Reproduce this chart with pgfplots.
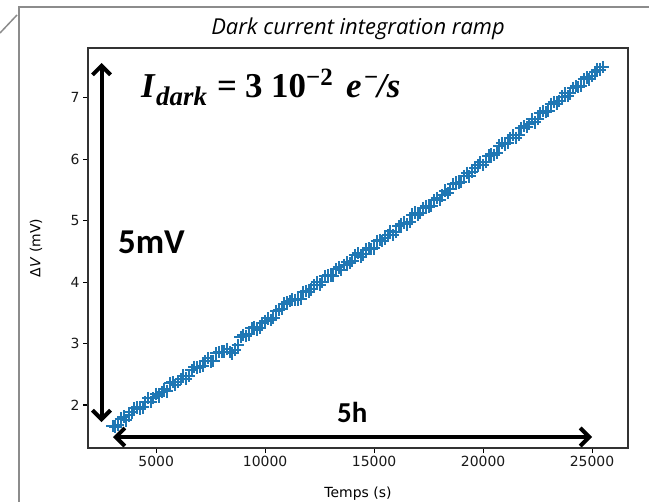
\documentclass[border=0pt]{standalone}
\usepackage{fontspec}
\setmainfont{DejaVu Sans}
\newfontfamily\carlito{Carlito}
\newfontfamily\opensans{Open Sans}
\newfontfamily\cambria{Liberation Serif}
\usepackage{pgfplots}
\pgfplotsset{compat=1.18}
\usetikzlibrary{arrows.meta}
\definecolor{mplblue}{HTML}{1F77B4}
\definecolor{framegray}{HTML}{8C8C8C}
\newcommand{\fbig}{\cambria\bfseries\fontsize{35}{40}\selectfont}
\newcommand{\fsub}{\cambria\bfseries\fontsize{27}{30}\selectfont}
\newcommand{\fsup}{\cambria\bfseries\fontsize{25}{28}\selectfont}
\begin{document}
\begin{tikzpicture}
\useasboundingbox (0,0) rectangle (649bp,-502bp);
% slide frame
\draw[framegray, line width=1.5bp] (0bp,-33bp) -- (17bp,-15bp);
\draw[framegray, line width=1.5bp] (19bp,-502bp) -- (19bp,-7bp) -- (649bp,-7bp);
\begin{axis}[
  at={(88bp,-448bp)}, anchor=south west,
  width=540bp, height=400bp, scale only axis,
  xmin=1870, xmax=26650, ymin=1.30, ymax=7.81,
  xtick={5000,10000,15000,20000,25000},
  ytick={2,3,4,5,6,7},
  scaled x ticks=false,
  xticklabel style={/pgf/number format/1000 sep={}},
  /pgf/number format/assume math mode=true,
  tick label style={font=\fontsize{14}{16}\selectfont, text=black!90},
  tick align=outside, major tick length=5bp,
  every tick/.style={black, line width=1.1bp},
  axis line style={black!80, line width=1.1bp},
  xtick pos=bottom, ytick pos=left,
  xlabel={Temps (s)},
  ylabel={Δ\textit{V} (mV)},
  label style={font=\fontsize{14}{16}\selectfont},
  xlabel style={at={(axis description cs:0.5,-0.115)}, anchor=center},
  ylabel style={at={(axis description cs:-0.0963,0.5)}, anchor=center},
]
\addplot[only marks, mark=+, mark size=6.2bp, color=mplblue, line width=2bp] table {
x y
3000 1.66
3250 1.68
3500 1.81
3750 1.83
4000 1.95
4250 1.93
4500 2.05
4750 2.05
5000 2.18
5250 2.21
5500 2.22
5750 2.37
6000 2.37
6250 2.48
6500 2.48
6750 2.62
7000 2.62
7250 2.71
7500 2.71
7750 2.84
8000 2.87
8250 2.91
8500 2.84
8750 2.97
9000 3.14
9250 3.15
9500 3.27
9750 3.26
10000 3.37
10250 3.38
10500 3.53
10750 3.56
11000 3.67
11250 3.72
11500 3.72
11750 3.84
12000 3.84
12250 3.95
12500 3.96
12750 4.10
13000 4.11
13250 4.21
13500 4.20
13750 4.32
14000 4.34
14250 4.47
14500 4.45
14750 4.55
15000 4.55
15250 4.69
15500 4.71
15750 4.83
16000 4.82
16250 4.94
16500 4.94
16750 5.10
17000 5.09
17250 5.21
17500 5.22
17750 5.33
18000 5.34
18250 5.49
18500 5.51
18750 5.62
19000 5.63
19250 5.78
19500 5.79
19750 5.90
20000 5.91
20250 6.06
20500 6.07
20750 6.22
21000 6.24
21250 6.34
21500 6.35
21750 6.50
22000 6.52
22250 6.65
22500 6.66
22750 6.78
23000 6.79
23250 6.93
23500 6.95
23750 7.07
24000 7.07
24250 7.19
24500 7.19
24750 7.33
25000 7.35
25250 7.46
25500 7.50
3125 1.65
3375 1.78
3625 1.75
3875 1.88
4125 1.96
4375 1.96
4625 2.11
4875 2.11
5125 2.14
5375 2.26
5625 2.36
5875 2.33
6125 2.42
6375 2.43
6625 2.57
6875 2.61
7125 2.64
7375 2.76
7625 2.72
7875 2.86
8125 2.87
8375 2.86
8625 2.90
8875 3.11
9125 3.12
9375 3.25
9625 3.22
9875 3.33
10125 3.41
10375 3.42
10625 3.55
10875 3.65
11125 3.69
11375 3.71
11625 3.73
11875 3.86
12125 3.88
12375 4.00
12625 4.00
12875 4.11
13125 4.10
13375 4.24
13625 4.28
13875 4.31
14125 4.44
14375 4.41
14625 4.53
14875 4.54
15125 4.67
15375 4.67
15625 4.77
15875 4.77
16125 4.91
16375 4.97
16625 4.98
16875 5.13
17125 5.12
17375 5.24
17625 5.24
17875 5.37
18125 5.41
18375 5.45
18625 5.60
18875 5.61
19125 5.73
19375 5.72
19625 5.86
19875 5.95
20125 5.96
20375 6.08
20625 6.10
20875 6.26
21125 6.27
21375 6.39
21625 6.40
21875 6.54
22125 6.57
22375 6.60
22625 6.75
22875 6.77
23125 6.90
23375 6.90
23625 7.02
23875 7.03
24125 7.16
24375 7.18
24625 7.30
24875 7.30
25125 7.42
25375 7.46
};
\end{axis}
% title
\node[anchor=base, inner sep=0] at (358bp,-34bp) {\opensans\itshape\fontsize{22}{24}\selectfont Dark current integration ramp};
% arrows
\draw[line width=4bp, {Straight Barb[length=9bp,width=18bp]}-{Straight Barb[length=9bp,width=18bp]}] (101.5bp,-63bp) -- (101.5bp,-422bp);
\draw[line width=4bp, {Straight Barb[length=9bp,width=18bp]}-{Straight Barb[length=9bp,width=18bp]}] (113bp,-437bp) -- (592bp,-437bp);
% annotations
\node[anchor=base west, inner sep=0] at (118bp,-253bp) {\carlito\bfseries\fontsize{35}{40}\selectfont 5mV};
\node[anchor=base west, inner sep=0] at (337bp,-422bp) {\carlito\bfseries\fontsize{29}{34}\selectfont 5h};
% formula I_dark = 3 10^-2 e^-/s
\node[anchor=base west, inner sep=0] at (141bp,-97bp) {\fbig\itshape I};
\node[anchor=base west, inner sep=0] at (156bp,-105bp) {\fsub\itshape dark};
\node[anchor=base west, inner sep=0] at (217bp,-97bp) {\fbig =};
\node[anchor=base west, inner sep=0] at (245bp,-97bp) {\fbig 3};
\node[anchor=base west, inner sep=0] at (271bp,-97bp) {\fbig 10};
\node[anchor=base west, inner sep=0] at (306bp,-85bp) {\fsup −2};
\node[anchor=base west, inner sep=0] at (346bp,-97bp) {\fbig\itshape e};
\node[anchor=base west, inner sep=0] at (364bp,-85bp) {\fsup −};
\node[anchor=base west, inner sep=0] at (377bp,-97bp) {\fbig\itshape /s};
\end{tikzpicture}
\end{document}
